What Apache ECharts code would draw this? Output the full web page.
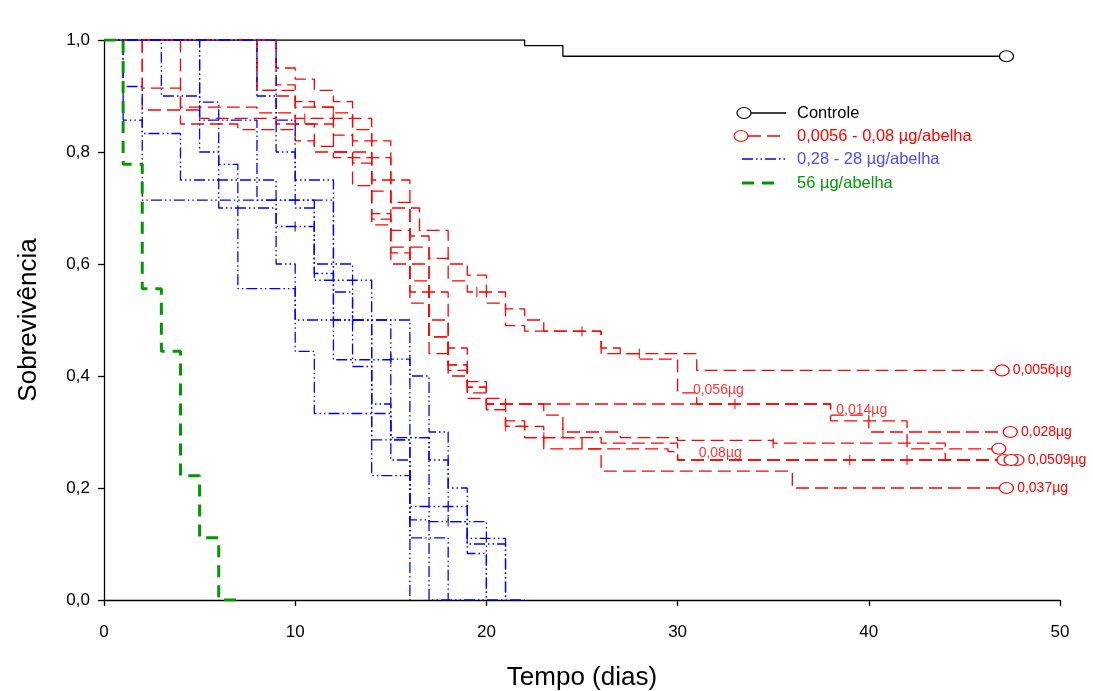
<!DOCTYPE html>
<html><head><meta charset="utf-8">
<script src="https://cdn.jsdelivr.net/npm/echarts@6/dist/echarts.min.js"></script>
<style>html,body{margin:0;padding:0;background:#fff}#c{width:1093px;height:691px}</style>
</head><body><div id="c"></div>
<script>
// ---- data: Kaplan-Meier steps [time (days), survival] ----
const xTicks = [0, 10, 20, 30, 40, 50];
const yTicks = [0, 0.2, 0.4, 0.6, 0.8, 1.0];

const controle = [[0,1],[22,0.99],[24,0.971],[47.2,0.971]];

const green56 = [[0,1],[1,0.778],[2,0.556],[3,0.444],[4,0.222],[5,0.111],[6,0],[7,0]];

const red0056 = [[0,1],[9,0.95],[10,0.93],[11,0.91],[12,0.89],[13,0.86],[14,0.82],[15,0.75],[16,0.70],[16.5,0.66],[18,0.60],[19,0.58],[20,0.55],[21,0.52],[22,0.50],[23,0.48],[26,0.45],[27,0.44],[31,0.41],[46.97,0.41]];
const red028 = [[0,1],[8,0.91],[9,0.90],[10,0.89],[11,0.88],[12,0.87],[13,0.84],[14,0.79],[15,0.71],[16,0.65],[17,0.61],[18,0.57],[19,0.55],[20,0.53],[21,0.49],[22,0.48],[26,0.44],[28,0.43],[30,0.37],[31,0.35],[38,0.33],[40,0.30],[47.4,0.30]];
const red014 = [[0,1],[2,0.914],[4,0.88],[8,0.87],[10,0.85],[12,0.80],[13,0.78],[14,0.73],[15,0.66],[16,0.60],[17,0.50],[18,0.42],[19,0.38],[20,0.35],[23,0.33],[24,0.30],[27,0.29],[30,0.285],[35,0.28],[42,0.27],[46.8,0.27]];
const red0509 = [[0,1],[2,0.875],[5,0.86],[9,0.85],[11,0.81],[12,0.79],[14,0.69],[15,0.62],[16,0.55],[17,0.47],[18,0.41],[19,0.37],[20,0.34],[21,0.31],[23,0.29],[26,0.28],[30,0.25],[47.75,0.25]];
const red08 = [[0,1],[4,0.85],[7,0.84],[10,0.82],[11,0.80],[13,0.74],[14,0.67],[15,0.60],[16,0.53],[17,0.44],[18,0.40],[19,0.36],[21,0.31],[22,0.29],[25,0.27],[29.5,0.265],[30,0.25],[47.07,0.25]];
const red056 = [[0,1],[9,0.92],[10,0.88],[12,0.86],[13,0.82],[14,0.75],[15,0.70],[16,0.63],[17,0.55],[18,0.45],[19,0.39],[20,0.35],[38,0.32],[42,0.28],[44,0.25],[47.44,0.25]];
const red037 = [[0,1],[8,0.91],[10,0.86],[12,0.83],[13,0.80],[14,0.68],[15,0.63],[16,0.57],[17,0.47],[18,0.42],[19,0.38],[20,0.34],[21,0.32],[22,0.29],[23,0.27],[26,0.23],[36,0.20],[47.2,0.20]];

const blue1 = [[0,1],[1,0.857],[2,0.714],[12,0.571],[14,0.429],[15,0.286],[16,0.143],[17,0],[22,0]];
const blue2 = [[0,1],[1,0.917],[2,0.833],[4,0.75],[9,0.667],[11,0.583],[12,0.5],[13,0.417],[14,0.333],[15,0.25],[16,0.167],[19,0.083],[20,0]];
const blue3 = [[0,1],[3,0.9],[5,0.8],[6,0.7],[9,0.6],[10,0.5],[16,0.4],[17,0.3],[18,0.2],[19,0.1],[21,0]];
const blue4 = [[0,1],[5,0.889],[6,0.778],[7,0.556],[10,0.444],[11,0.333],[14,0.222],[16,0.111],[18,0]];
const blue5 = [[0,1],[5,0.857],[8,0.714],[11,0.571],[12,0.429],[14,0.286],[16,0]];
const blue6 = [[0,1],[8,0.9],[9,0.8],[10,0.7],[11,0.6],[12,0.55],[13,0.5],[15,0.43],[16,0.29],[17,0.14],[20,0.11],[21,0]];
const blue7 = [[0,1],[9,0.857],[10,0.75],[12,0.6],[13,0.5],[14,0.35],[15,0.29],[17,0.25],[18,0.14],[19,0.11],[20,0]];

// censored times (tick marks) per curve
const censRed = [[red0056,[25,28]],[red028,[12,19.5]],[red014,[24,35]],[red0509,[21,23]],[red08,[39,42]],[red056,[33]],[red037,[10.5]]];
const censBlue = [[blue2,[10]],[blue3,[13]],[blue6,[15]],[blue7,[18,19]]];

// curve labels
const endLabels = ['0,0056µg','0,028µg','','0,0509µg','','','0,037µg'];
const midLabels = [['0,056µg',30.8,0.375],['0,014µg',38.3,0.339],['0,08µg',31.1,0.2625]];

const legendNames = ['Controle','0,0056 - 0,08 µg/abelha','0,28 - 28 µg/abelha','56 µg/abelha'];

// ---- drawing ----
const RED='#ff0000', BLUE='#0000ff', GREEN='#009a00';
const FONT='Liberation Sans, Arial, sans-serif';
function stepAt(arr,t){let v=arr[0][1];for(const p of arr){if(p[0]<=t)v=p[1];}return v;}

function curve(name, arr, color, dash, width, endCircle, endLabel){
  const data = arr.map((p,i)=>{
    if(i===arr.length-1 && endCircle){
      return {value:p, symbol:'circle', symbolSize:[14,11],
        itemStyle:{color:'#fff',borderColor:color,borderWidth:1.2},
        label:{show:!!endLabel, formatter:endLabel||'', position:'right', distance:3, color:color, fontSize:14, fontFamily:FONT}};
    }
    return {value:p, symbol:'none'};
  });
  return {type:'line', name, step:'end', data, showSymbol:true, symbol:'none', animation:false, silent:true,
    lineStyle:{color, width, type:dash}, itemStyle:{color}, z:3};
}

const series = [];
series.push(curve(legendNames[0], controle, '#000', 'solid', 1.3, true, ''));
const reds=[red0056,red028,red014,red0509,red08,red056,red037];
reds.forEach((r,i)=>series.push(curve(legendNames[1], r, RED, [13,6], 1.3, true, endLabels[i])));
const blues=[blue1,blue2,blue3,blue4,blue5,blue6,blue7];
blues.forEach(b=>series.push(curve(legendNames[2], b, BLUE, [11,3,1.5,3,1.5,3], 1.3, false, '')));
series.push(curve(legendNames[3], green56, GREEN, [12,8], 3, false, ''));

function cens(list,color){
  const pts=[];list.forEach(([arr,ts])=>ts.forEach(t=>pts.push([t,stepAt(arr,t)])));
  return {type:'scatter', data:pts, symbol:'rect', symbolSize:[1.3,10], itemStyle:{color}, animation:false, silent:true, z:4};
}
series.push(cens(censRed,RED));
series.push(cens(censBlue,BLUE));
series.push({type:'scatter', data:midLabels.map(m=>[m[1],m[2]]), symbolSize:0, animation:false, silent:true, z:5,
  label:{show:true, position:'right', distance:0, color:RED, fontSize:14, fontFamily:FONT, formatter:(p)=>midLabels[p.dataIndex][0]}});

const chart = echarts.init(document.getElementById('c'), null, {renderer:'canvas'});
const lg = [];
const rows=[113,136,159,183];
lg.push({type:'line', shape:{x1:751,y1:rows[0],x2:786,y2:rows[0]}, style:{stroke:'#000',lineWidth:1.3}});
lg.push({type:'ellipse', shape:{cx:744,cy:rows[0],rx:7,ry:5.5}, style:{fill:'#fff',stroke:'#000',lineWidth:1.2}});
lg.push({type:'line', shape:{x1:748,y1:rows[1],x2:786,y2:rows[1]}, style:{stroke:RED,lineWidth:1.3,lineDash:[13,6]}});
lg.push({type:'ellipse', shape:{cx:741,cy:rows[1],rx:7,ry:5.5}, style:{fill:'#fff',stroke:RED,lineWidth:1.2}});
lg.push({type:'line', shape:{x1:742,y1:rows[2],x2:786,y2:rows[2]}, style:{stroke:BLUE,lineWidth:1.3,lineDash:[11,3,1.5,3,1.5,3]}});
lg.push({type:'line', shape:{x1:742,y1:rows[3],x2:776,y2:rows[3]}, style:{stroke:GREEN,lineWidth:3,lineDash:[12,8]}});
const lgColors=['#000',RED,'#4a4aff',GREEN];
legendNames.forEach((n,i)=>lg.push({type:'text', x:797, y:rows[i], style:{text:n, fill:lgColors[i], font:'16.5px '+FONT, textVerticalAlign:'middle'}}));

chart.setOption({
  backgroundColor:'#fff',
  animation:false,
  grid:{left:104,right:33,top:40,bottom:91,containLabel:false,outerBoundsMode:'none'},
  xAxis:{type:'value', min:0, max:50, interval:10,
    name:'Tempo (dias)', nameLocation:'middle', nameGap:65,
    nameTextStyle:{fontSize:26, fontFamily:FONT, color:'#000'},
    axisLine:{show:true, onZero:false, lineStyle:{color:'#000', width:1.3}},
    axisTick:{show:true, inside:false, length:6, lineStyle:{color:'#000', width:1.3}},
    axisLabel:{fontSize:17, fontFamily:FONT, color:'#000', margin:24, formatter:(v)=>xTicks.includes(v)?String(v):''},
    splitLine:{show:false}},
  yAxis:{type:'value', min:0, max:1, interval:0.2,
    name:'Sobrevivência', nameLocation:'middle', nameGap:62,
    nameTextStyle:{fontSize:26, fontFamily:FONT, color:'#000'},
    axisLine:{show:true, lineStyle:{color:'#000', width:1.3}},
    axisTick:{show:true, inside:false, length:6, lineStyle:{color:'#000', width:1.3}},
    axisLabel:{fontSize:17, fontFamily:FONT, color:'#000', margin:14, formatter:(v)=>yTicks.some(t=>Math.abs(t-v)<1e-9)?v.toFixed(1).replace('.',','):''},
    splitLine:{show:false}},
  series,
  graphic: lg
});
</script></body></html>
